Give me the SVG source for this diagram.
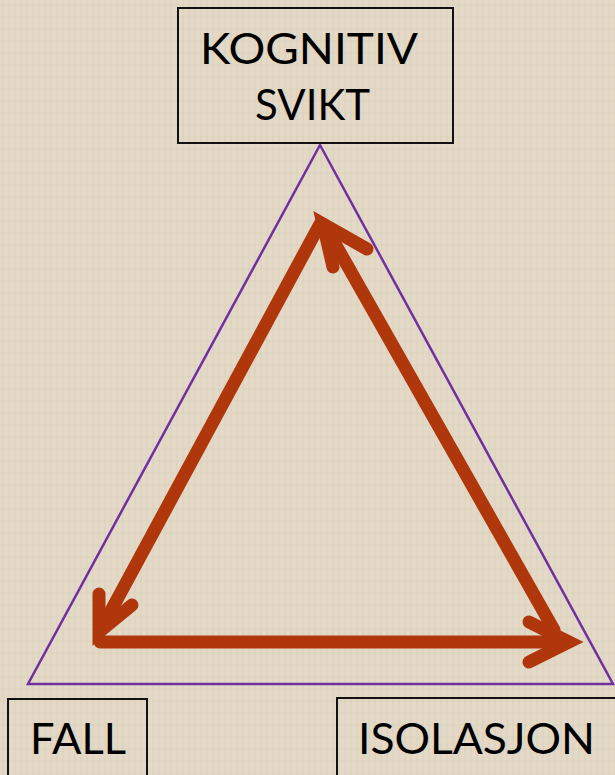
<svg xmlns="http://www.w3.org/2000/svg" width="615" height="775" viewBox="0 0 615 775">
<defs>
<pattern id="tex" width="12" height="12" patternUnits="userSpaceOnUse">
<rect width="12" height="12" fill="#e3d9c6"/>
<path d="M3 0V12M9 0V12" stroke="#d6cbb5" stroke-width="1" opacity="0.6"/>
<path d="M0 5H12" stroke="#d8ceb9" stroke-width="1" opacity="0.5"/>
</pattern>
<style>
.box{fill:none;stroke:#111;stroke-width:2}
.lbl{font-family:"Lato","Open Sans","Liberation Sans",sans-serif;font-size:43px;fill:#000}
.arr{fill:none;stroke:#b0360c;stroke-width:13;stroke-linecap:round;stroke-linejoin:miter}
.tri{fill:none;stroke:#7030a0;stroke-width:2.5}
</style>
</defs>
<rect width="615" height="775" fill="url(#tex)"/>
<g id="triangle"><polygon class="tri" points="320,145 28,684 613,684"/></g>
<g id="kognitiv-svikt">
<rect class="box" x="178" y="8" width="275" height="135"/>
<text class="lbl" x="200" y="64" textLength="218" lengthAdjust="spacingAndGlyphs">KOGNITIV</text>
<text class="lbl" x="255" y="120" textLength="115" lengthAdjust="spacingAndGlyphs">SVIKT</text>
</g>
<g id="fall">
<rect class="box" x="8" y="699" width="139" height="90"/>
<text class="lbl" x="30" y="754" textLength="96" lengthAdjust="spacingAndGlyphs">FALL</text>
</g>
<g id="isolasjon">
<rect class="box" x="337" y="698" width="300" height="90"/>
<text class="lbl" x="358" y="754" textLength="237" lengthAdjust="spacingAndGlyphs">ISOLASJON</text>
</g>
<g id="connectors">
<path class="arr" d="M320 224L100 631"/>
<polyline class="arr" points="99,594 99,632 132,605"/>
<path class="arr" d="M100 642L568 642"/>
<polyline class="arr" points="529,622 569,642 529,662"/>
<path class="arr" d="M554 630L325 226"/>
<polyline class="arr" points="333,267 323,224 367,249"/>
</g>
</svg>
